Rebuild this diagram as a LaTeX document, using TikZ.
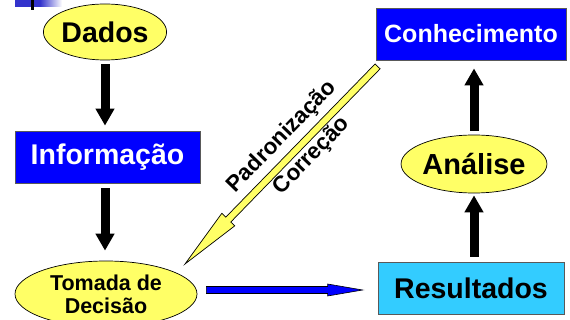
\documentclass[tikz,border=0pt]{standalone}
\usepackage{fontspec}
\setmainfont{Liberation Sans}
\usetikzlibrary{shapes.geometric, arrows.meta, calc}

\definecolor{elfill}{RGB}{255,255,102}
\definecolor{boxblue}{RGB}{0,0,255}
\definecolor{boxcyan}{RGB}{51,204,255}
\definecolor{barblue}{RGB}{51,51,204}

% outlined block arrow: [style]{from}{to}{half shaft}{half head}{head length}
\newcommand{\blockarrow}[6][]{%
  \coordinate (ba-h) at ($(#3)!#6!(#2)$);
  \draw[#1] ($(#2)!#4!90:(#3)$) -- ($(ba-h)!#4!90:(#3)$) -- ($(ba-h)!#5!90:(#3)$)
    -- (#3) -- ($(ba-h)!#5!-90:(#3)$) -- ($(ba-h)!#4!-90:(#3)$)
    -- ($(#2)!#4!-90:(#3)$) -- cycle;
}

\begin{document}
\begin{tikzpicture}[x=1pt, y=-1pt,
    ell/.style={ellipse, draw=black, line width=0.7pt, fill=elfill, inner sep=0pt, font=\bfseries},
    bx/.style={rectangle, draw=black!65, line width=0.8pt, inner sep=0pt, minimum height=52pt, font=\bfseries},
    blk/.style={line width=9pt, -{Triangle[length=17pt, width=18pt]}}]
  \useasboundingbox (0,0) rectangle (570,320);

  % slide bullet
  \fill[barblue] (15,0) rectangle (40,7);
  \shade[left color=barblue, right color=white] (40,0) rectangle (62,7);
  \draw[line width=3pt] (32,0) -- (32,10);

  \node[ell, minimum width=118pt, minimum height=56pt, font=\bfseries\fontsize{28.5}{30}\selectfont] (dados) at (105,32) {Dados};
  \node[bx, fill=boxblue, text=white, minimum width=185pt, font=\bfseries\fontsize{28.5}{30}\selectfont] (info) at (107.5,157) {Informação};
  \node[ell, minimum width=182pt, minimum height=66pt, align=center, font=\bfseries\fontsize{21.5}{23}\selectfont] (tomada) at (106,294) {Tomada de\\Decisão};
  \node[bx, fill=boxcyan, minimum width=186pt, font=\bfseries\fontsize{28.5}{30}\selectfont] (resul) at (471,288) {Resultados};
  \node[ell, minimum width=140pt, minimum height=58pt, font=\bfseries\fontsize{29}{31}\selectfont] (analise) at (474,164) {Análise};
  \node[bx, fill=boxblue, text=white, minimum width=190pt, font=\bfseries\fontsize{25}{27}\selectfont] (conh) at (471,34) {Conhecimento};

  \draw[blk, shorten <=4pt, shorten >=5pt] (dados.south) -- (dados.south |- info.north);
  \draw[blk, shorten <=5pt, shorten >=10pt] (dados.south |- info.south) -- (dados.south |- tomada.north);
  \draw[blk, shorten <=5pt, shorten >=2pt] (analise.south |- resul.north) -- (analise.south);
  \draw[blk, shorten <=4pt, shorten >=8pt] (analise.north) -- (analise.north |- conh.south);

  \coordinate (ytail) at ($(conh.south west)+(2,6)$);
  \coordinate (ytip) at ($(tomada.center)+(79,-30)$);
  \blockarrow[fill=elfill, draw=black, line width=0.7pt]{ytail}{ytip}{3.5pt}{9pt}{62pt}

  \coordinate (btail) at ($(tomada.east)+(9,-4)$);
  \coordinate (btip) at ($(resul.west)+(-15,2)$);
  \blockarrow[fill=boxblue, draw=black, line width=0.6pt]{btail}{btip}{3.5pt}{6pt}{35pt}

  \node[rotate=46, font=\bfseries\fontsize{22.5}{24}\selectfont] (lblP) at (282,137) {Padronização};
  \node[rotate=46, font=\bfseries\fontsize{22.5}{24}\selectfont] (lblC) at (312,156) {Correção};
\end{tikzpicture}
\end{document}
